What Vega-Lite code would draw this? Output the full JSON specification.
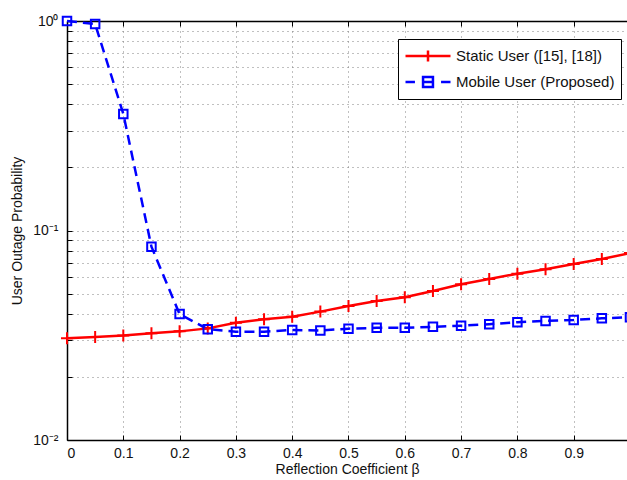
{
  "$schema": "https://vega.github.io/schema/vega-lite/v6.json",
  "width": 560,
  "height": 419,
  "autosize": {"type": "none"},
  "padding": {"left": 67, "top": 21, "right": 0, "bottom": 40},
  "background": "white",
  "config": {
    "view": {"stroke": null},
    "font": "Liberation Sans",
    "axis": {
      "domainColor": "black",
      "domainWidth": 1.5,
      "tickColor": "black",
      "tickWidth": 1,
      "labelFont": "Liberation Sans",
      "labelFontSize": 14,
      "labelColor": "#111111",
      "titleFont": "Liberation Sans",
      "titleFontSize": 14,
      "titleFontWeight": "normal",
      "titleColor": "#111111",
      "gridColor": "#808080",
      "gridDash": [1, 4],
      "gridWidth": 1,
      "gridOpacity": 1
    }
  },
  "data": {
    "values": [
      {"series": "Static User ([15], [18])", "beta": 0.0, "p": 0.0306},
      {"series": "Static User ([15], [18])", "beta": 0.05, "p": 0.0310},
      {"series": "Static User ([15], [18])", "beta": 0.1, "p": 0.0315},
      {"series": "Static User ([15], [18])", "beta": 0.15, "p": 0.0323},
      {"series": "Static User ([15], [18])", "beta": 0.2, "p": 0.0330},
      {"series": "Static User ([15], [18])", "beta": 0.25, "p": 0.0341},
      {"series": "Static User ([15], [18])", "beta": 0.3, "p": 0.0363},
      {"series": "Static User ([15], [18])", "beta": 0.35, "p": 0.0377},
      {"series": "Static User ([15], [18])", "beta": 0.4, "p": 0.0388},
      {"series": "Static User ([15], [18])", "beta": 0.45, "p": 0.0410},
      {"series": "Static User ([15], [18])", "beta": 0.5, "p": 0.0436},
      {"series": "Static User ([15], [18])", "beta": 0.55, "p": 0.0461},
      {"series": "Static User ([15], [18])", "beta": 0.6, "p": 0.0480},
      {"series": "Static User ([15], [18])", "beta": 0.65, "p": 0.0514},
      {"series": "Static User ([15], [18])", "beta": 0.7, "p": 0.0554},
      {"series": "Static User ([15], [18])", "beta": 0.75, "p": 0.0587},
      {"series": "Static User ([15], [18])", "beta": 0.8, "p": 0.0622},
      {"series": "Static User ([15], [18])", "beta": 0.85, "p": 0.0653},
      {"series": "Static User ([15], [18])", "beta": 0.9, "p": 0.0692},
      {"series": "Static User ([15], [18])", "beta": 0.95, "p": 0.0731},
      {"series": "Static User ([15], [18])", "beta": 1.0, "p": 0.0780},
      {"series": "Mobile User (Proposed)", "beta": 0.0, "p": 1.0},
      {"series": "Mobile User (Proposed)", "beta": 0.05, "p": 0.967},
      {"series": "Mobile User (Proposed)", "beta": 0.1, "p": 0.36},
      {"series": "Mobile User (Proposed)", "beta": 0.15, "p": 0.0837},
      {"series": "Mobile User (Proposed)", "beta": 0.2, "p": 0.0399},
      {"series": "Mobile User (Proposed)", "beta": 0.25, "p": 0.0338},
      {"series": "Mobile User (Proposed)", "beta": 0.3, "p": 0.0329},
      {"series": "Mobile User (Proposed)", "beta": 0.35, "p": 0.0329},
      {"series": "Mobile User (Proposed)", "beta": 0.4, "p": 0.0335},
      {"series": "Mobile User (Proposed)", "beta": 0.45, "p": 0.0333},
      {"series": "Mobile User (Proposed)", "beta": 0.5, "p": 0.0340},
      {"series": "Mobile User (Proposed)", "beta": 0.55, "p": 0.0343},
      {"series": "Mobile User (Proposed)", "beta": 0.6, "p": 0.0343},
      {"series": "Mobile User (Proposed)", "beta": 0.65, "p": 0.0347},
      {"series": "Mobile User (Proposed)", "beta": 0.7, "p": 0.0351},
      {"series": "Mobile User (Proposed)", "beta": 0.75, "p": 0.0357},
      {"series": "Mobile User (Proposed)", "beta": 0.8, "p": 0.0365},
      {"series": "Mobile User (Proposed)", "beta": 0.85, "p": 0.0370},
      {"series": "Mobile User (Proposed)", "beta": 0.9, "p": 0.0374},
      {"series": "Mobile User (Proposed)", "beta": 0.95, "p": 0.0381},
      {"series": "Mobile User (Proposed)", "beta": 1.0, "p": 0.0385}
    ]
  },
  "encoding": {
    "y": {
      "field": "p",
      "type": "quantitative",
      "scale": {"type": "log", "domain": [0.01, 1], "nice": false},
      "axis": {
        "title": "User Outage Probability",
        "values": [0.01, 0.02, 0.03, 0.04, 0.05, 0.06, 0.07, 0.08, 0.09, 0.1, 0.2, 0.3, 0.4, 0.5, 0.6, 0.7, 0.8, 0.9, 1],
        "labelExpr": "datum.value == 1 ? '10⁰' : datum.value == 0.1 ? '10⁻¹' : datum.value == 0.01 ? '10⁻²' : ''",
        "grid": true,
        "tickSize": -5,
        "labelPadding": 14,
        "titlePadding": 8
      }
    }
  },
  "layer": [
    {
      "transform": [{"filter": "datum.series == 'Static User ([15], [18])'"}],
      "mark": {"type": "line", "strokeWidth": 2.5, "color": "#ff0000"},
      "encoding": {
        "x": {
          "field": "beta",
          "type": "quantitative",
          "scale": {"domain": [0, 0.9947], "nice": false, "zero": false},
          "axis": {
            "orient": "bottom",
            "title": "Reflection Coefficient β",
            "values": [0, 0.1, 0.2, 0.3, 0.4, 0.5, 0.6, 0.7, 0.8, 0.9],
            "format": ".1~f",
            "grid": true,
            "tickSize": -5,
            "labelPadding": 11,
            "titlePadding": 2
          }
        }
      }
    },
    {
      "transform": [{"filter": "datum.series == 'Mobile User (Proposed)'"}],
      "mark": {"type": "line", "strokeWidth": 2.5, "color": "#0000ff", "strokeDash": [10, 6]},
      "encoding": {
        "x": {"field": "beta", "type": "quantitative", "axis": null}
      }
    },
    {
      "transform": [{"filter": "datum.series == 'Static User ([15], [18])'"}],
      "mark": {"type": "point", "filled": false, "strokeWidth": 2, "color": "#ff0000", "opacity": 1, "size": 100, "shape": "M-1.2,0H1.2M0,-1.2V1.2"},
      "encoding": {
        "x": {"field": "beta", "type": "quantitative", "axis": null}
      }
    },
    {
      "transform": [{"filter": "datum.series == 'Mobile User (Proposed)'"}],
      "mark": {"type": "point", "filled": false, "strokeWidth": 2, "color": "#0000ff", "opacity": 1, "size": 100, "shape": "M-0.85,-0.85H0.85V0.85H-0.85Z"},
      "encoding": {
        "x": {"field": "beta", "type": "quantitative", "axis": null}
      }
    },
    {
      "mark": {"type": "point", "filled": false, "opacity": 0, "strokeWidth": 2.5},
      "encoding": {
        "x": {
          "field": "beta",
          "type": "quantitative",
          "axis": {
            "orient": "top",
            "title": null,
            "labels": false,
            "grid": false,
            "values": [0, 0.1, 0.2, 0.3, 0.4, 0.5, 0.6, 0.7, 0.8, 0.9],
            "tickSize": -5
          }
        },
        "color": {
          "field": "series",
          "type": "nominal",
          "scale": {"domain": ["Static User ([15], [18])", "Mobile User (Proposed)"], "range": ["#ff0000", "#0000ff"]},
          "legend": {
            "title": null,
            "orient": "none",
            "legendX": 331,
            "legendY": 18,
            "strokeColor": "black",
            "fillColor": "white",
            "padding": 6,
            "symbolSize": 2025,
            "symbolStrokeWidth": 2.5,
            "symbolOpacity": 1,
            "symbolFillColor": "transparent",
            "clipHeight": 22,
            "rowPadding": 4,
            "labelFont": "Liberation Sans",
            "labelFontSize": 15,
            "labelColor": "#111111",
            "labelLimit": 300,
            "labelOffset": 4
          }
        },
        "shape": {
          "field": "series",
          "type": "nominal",
          "scale": {"domain": ["Static User ([15], [18])", "Mobile User (Proposed)"], "range": ["M-1,0H1M0,-0.24V0.24", "M-1,0H-0.58M-0.22,-0.22H0.22V0.22H-0.22ZM-0.22,0H0.22M0.58,0H1"]},
          "legend": {
            "title": null,
            "orient": "none",
            "legendX": 331,
            "legendY": 18,
            "strokeColor": "black",
            "fillColor": "white",
            "padding": 6,
            "symbolSize": 2025,
            "symbolStrokeWidth": 2.5,
            "symbolOpacity": 1,
            "symbolFillColor": "transparent",
            "clipHeight": 22,
            "rowPadding": 4,
            "labelFont": "Liberation Sans",
            "labelFontSize": 15,
            "labelColor": "#111111",
            "labelLimit": 300,
            "labelOffset": 4
          }
        }
      }
    }
  ],
  "resolve": {"axis": {"x": "independent"}}
}
